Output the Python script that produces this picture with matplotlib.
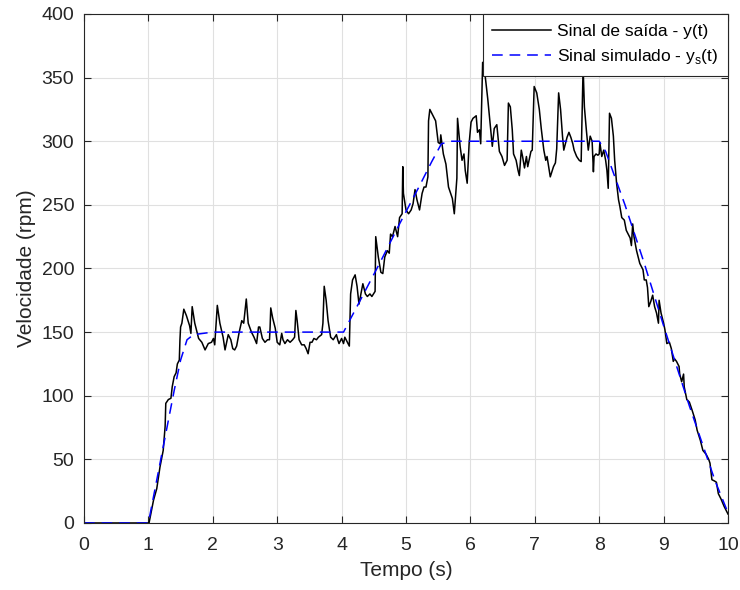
import numpy as np
import matplotlib
matplotlib.use('Agg')
import matplotlib.pyplot as plt

t_saida = [0.00, 1.00, 1.01, 1.08, 1.13, 1.18, 1.23, 1.26, 1.27, 1.31, 1.35, 1.37, 1.40, 1.43, 1.45, 1.48,
           1.49, 1.50, 1.52, 1.55, 1.59, 1.64, 1.66, 1.68, 1.72, 1.78, 1.83, 1.88, 1.93, 1.98, 2.01, 2.03,
           2.07, 2.11, 2.16, 2.19, 2.24, 2.28, 2.31, 2.34, 2.37, 2.41, 2.45, 2.48, 2.52, 2.55, 2.60, 2.64,
           2.68, 2.71, 2.73, 2.77, 2.81, 2.85, 2.88, 2.89, 2.90, 2.93, 2.97, 3.00, 3.04, 3.07, 3.09, 3.12,
           3.16, 3.20, 3.24, 3.27, 3.29, 3.31, 3.34, 3.38, 3.42, 3.45, 3.48, 3.51, 3.54, 3.57, 3.61, 3.64,
           3.69, 3.71, 3.73, 3.76, 3.79, 3.83, 3.87, 3.92, 3.94, 3.96, 4.00, 4.03, 4.05, 4.09, 4.12, 4.14,
           4.17, 4.21, 4.24, 4.27, 4.30, 4.33, 4.37, 4.40, 4.44, 4.47, 4.52, 4.53, 4.57, 4.61, 4.64, 4.67,
           4.71, 4.74, 4.76, 4.79, 4.83, 4.87, 4.90, 4.94, 4.95, 4.96, 5.00, 5.04, 5.08, 5.11, 5.14, 5.17,
           5.21, 5.25, 5.28, 5.31, 5.34, 5.35, 5.37, 5.42, 5.46, 5.50, 5.53, 5.54, 5.58, 5.62, 5.66, 5.70,
           5.72, 5.75, 5.79, 5.80, 5.84, 5.87, 5.90, 5.92, 5.95, 5.98, 6.01, 6.04, 6.09, 6.11, 6.14, 6.16,
           6.19, 6.23, 6.27, 6.30, 6.34, 6.37, 6.41, 6.45, 6.49, 6.53, 6.57, 6.59, 6.62, 6.65, 6.67, 6.71,
           6.74, 6.76, 6.79, 6.81, 6.84, 6.87, 6.89, 6.94, 6.96, 6.99, 7.03, 7.07, 7.10, 7.14, 7.17, 7.19,
           7.24, 7.29, 7.32, 7.34, 7.37, 7.40, 7.43, 7.45, 7.48, 7.50, 7.53, 7.56, 7.59, 7.61, 7.65, 7.69,
           7.72, 7.73, 7.75, 7.77, 7.80, 7.83, 7.86, 7.89, 7.91, 7.92, 7.95, 7.98, 8.00, 8.01, 8.04, 8.07,
           8.10, 8.12, 8.14, 8.16, 8.19, 8.22, 8.24, 8.27, 8.30, 8.32, 8.35, 8.39, 8.42, 8.45, 8.48, 8.50,
           8.52, 8.54, 8.58, 8.63, 8.68, 8.70, 8.73, 8.75, 8.77, 8.80, 8.83, 8.86, 8.89, 8.92, 8.93, 8.96,
           9.00, 9.02, 9.05, 9.09, 9.12, 9.15, 9.17, 9.20, 9.24, 9.25, 9.28, 9.31, 9.32, 9.36, 9.40, 9.44,
           9.49, 9.52, 9.57, 9.61, 9.66, 9.70, 9.72, 9.75, 9.79, 9.82, 9.85, 9.89, 9.94, 10.00]
y_saida = [0, 0, 0, 18, 27, 44, 57, 76, 94, 97, 98, 107, 115, 118, 125, 128,
           144, 154, 157, 168, 163, 155, 149, 170, 157, 145, 142, 136, 141, 142, 145, 140,
           171, 157, 146, 136, 148, 144, 137, 136, 139, 150, 159, 157, 176, 157, 150, 146,
           141, 154, 154, 145, 142, 144, 144, 154, 169, 161, 153, 142, 140, 149, 144, 141,
           144, 142, 144, 146, 167, 159, 144, 140, 140, 137, 133, 142, 142, 145, 144, 146,
           148, 157, 186, 175, 159, 146, 144, 148, 144, 141, 145, 141, 146, 142, 139, 180,
           191, 195, 186, 172, 180, 188, 180, 178, 180, 178, 182, 225, 209, 197, 196, 209,
           214, 212, 227, 225, 233, 225, 240, 243, 280, 259, 246, 243, 246, 251, 262, 254,
           246, 259, 264, 264, 272, 316, 325, 320, 316, 299, 298, 305, 290, 282, 264, 258,
           255, 243, 271, 318, 296, 285, 290, 277, 267, 298, 315, 318, 320, 307, 309, 298,
           362, 351, 333, 317, 296, 310, 313, 292, 288, 281, 285, 330, 327, 309, 290, 285,
           277, 273, 293, 288, 279, 288, 280, 292, 293, 343, 338, 325, 310, 293, 285, 288,
           272, 280, 283, 294, 338, 325, 304, 293, 299, 303, 307, 303, 298, 293, 288, 285,
           284, 311, 358, 327, 309, 293, 304, 300, 276, 288, 290, 289, 290, 299, 288, 293,
           285, 277, 263, 322, 318, 304, 285, 267, 254, 249, 240, 238, 230, 227, 224, 218,
           235, 225, 214, 204, 199, 191, 191, 185, 170, 174, 179, 170, 165, 157, 175, 165,
           157, 152, 141, 142, 137, 127, 129, 127, 123, 117, 111, 117, 107, 97, 95, 89,
           81, 73, 65, 57, 54, 50, 47, 34, 33, 32, 23, 19, 13, 7]

# sinal simulado
t_sim = [0.0, 1.0, 1.1, 1.2, 1.3, 1.4, 1.5, 1.6, 1.7, 2.0, 4.03, 4.3, 4.6, 4.9, 5.2, 5.4, 5.55, 5.7,
         8.0, 8.1, 8.2, 8.4, 8.7, 9.0, 9.4, 9.8, 10.0]
y_sim = [0, 0, 26, 52, 78, 104, 128, 144, 148, 150, 150, 176, 205, 235, 264, 284, 298, 300,
         300, 292, 278, 250, 204, 155, 92, 33, 8]

plt.rcParams['font.family'] = ['Liberation Sans', 'DejaVu Sans']
cinza = (0.15, 0.15, 0.15)

fig = plt.figure(figsize=(7.4, 5.9), dpi=100)
ax = fig.add_axes([0.1135, 0.1136, 0.8703, 0.8627])

ax.plot(t_saida, y_saida, color='k', linewidth=1.1, label='Sinal de saída - y(t)')
ax.plot(t_sim, y_sim, color=(0, 0, 1), linewidth=1.1, dashes=(7, 4.5),
        label=r'Sinal simulado - y$_\mathregular{s}$(t)')

ax.set_xlim([0, 10])
ax.set_ylim([0, 400])
ax.set_xticks(np.arange(0, 11, 1))
ax.set_yticks(np.arange(0, 401, 50))
ax.grid(True, color=(0.88, 0.88, 0.88), linewidth=0.8)
ax.set_axisbelow(True)
ax.tick_params(direction='in', length=5, width=0.8, top=True, right=True,
               labelsize=14, colors=cinza)
ax.tick_params(axis='x', pad=10)
ax.tick_params(axis='y', pad=7)
for s in ax.spines.values():
    s.set_color(cinza)
    s.set_linewidth(0.8)

ax.set_xlabel('Tempo (s)', fontsize=15, color=cinza, labelpad=5)
ax.set_ylabel('Velocidade (rpm)', fontsize=15, color=cinza, labelpad=4)

leg = ax.legend(loc='upper right', borderaxespad=0, fontsize=12.5, fancybox=False,
                framealpha=1, edgecolor=cinza, handlelength=3.4, handletextpad=0.35,
                labelspacing=0.5, borderpad=0.55)
leg.get_frame().set_linewidth(0.8)

fig.savefig('out.png', dpi=100)
